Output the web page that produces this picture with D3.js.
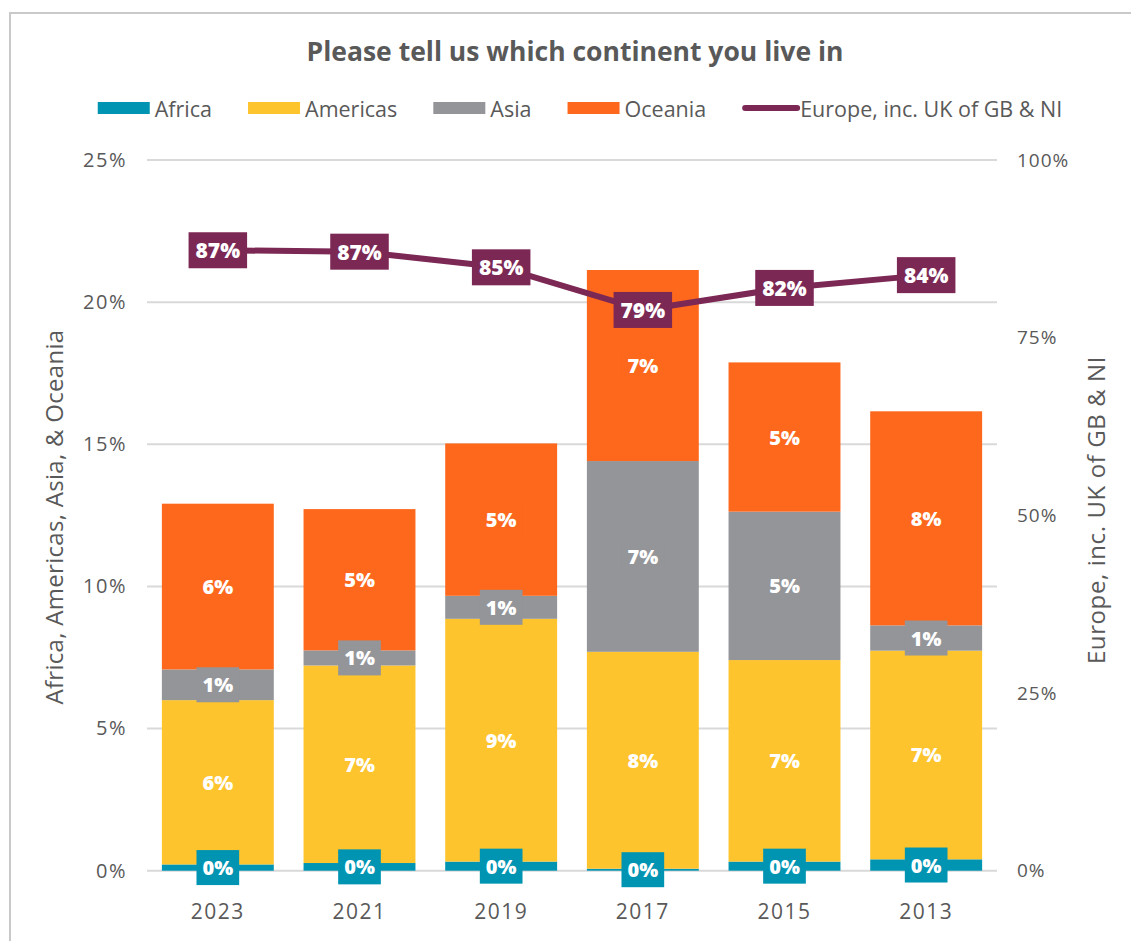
<!DOCTYPE html>
<html>
<head>
<meta charset="utf-8">
<script src="https://cdn.jsdelivr.net/npm/d3@7"></script>
<style>
  html, body { margin: 0; padding: 0; background: #fff; }
  svg { display: block; font-family: "Open Sans", Lato, sans-serif; }
</style>
</head>
<body>
<svg id="chart" width="1131" height="941"></svg>
<script>
// Survey years (left to right)
const years = ["2023", "2021", "2019", "2017", "2015", "2013"];

// Share of respondents per continent (%), stacked bars on the left axis
const africa   = [0.22, 0.27, 0.32, 0.07, 0.32, 0.40];
const americas = [5.78, 6.95, 8.54, 7.63, 7.09, 7.34];
const asia     = [1.08, 0.53, 0.81, 6.71, 5.22, 0.89];
const oceania  = [5.83, 4.97, 5.36, 6.72, 5.25, 7.53];

// Europe share (%), line on the right axis
const europe = [87.3, 87.1, 84.9, 78.9, 82.0, 83.8];

// Axis ticks
const leftTicks  = [0, 5, 10, 15, 20, 25];
const rightTicks = [0, 25, 50, 75, 100];

const seriesNames = ["Africa", "Americas", "Asia", "Oceania"];
const seriesValues = [africa, americas, asia, oceania];
const colors = {
  "Africa": "#0094b3",
  "Americas": "#fec42d",
  "Asia": "#949599",
  "Oceania": "#fe681c",
  "Europe": "#7c2855"
};
const europeName = "Europe, inc. UK of GB & NI";

const FONT = "'Open Sans', sans-serif";
const svg = d3.select("#chart");
const textCol = "#595959";
const gridCol = "#d9d9d9";

// outer frame
svg.append("rect")
  .attr("x", 10).attr("y", 13).attr("width", 1200).attr("height", 1000)
  .attr("fill", "none").attr("stroke", "#c9c9c9").attr("stroke-width", 2);

const plot = { left: 147, right: 997, top: 160, bottom: 870.7 };

const x = d3.scaleBand().domain(years)
  .range([plot.left, plot.right]).paddingInner(0.21).paddingOuter(0.105);
const yL = d3.scaleLinear().domain([0, 25]).range([plot.bottom, plot.top]);
const yR = d3.scaleLinear().domain([0, 100]).range([plot.bottom, plot.top]);

// gridlines
svg.append("g").selectAll("line").data(leftTicks).join("line")
  .attr("x1", plot.left).attr("x2", plot.right)
  .attr("y1", d => yL(d)).attr("y2", d => yL(d))
  .attr("stroke", gridCol).attr("stroke-width", 2);

// left axis labels
const axL = svg.append("g").attr("transform", `translate(${plot.left},0)`)
  .call(d3.axisLeft(yL).tickValues(leftTicks).tickFormat(d => d + "%").tickSize(0).tickPadding(20));
axL.select(".domain").remove();
axL.selectAll("text").attr("fill", textCol).style("font-size", "20px").style("letter-spacing", "1.5px")
  .style("font-family", FONT);

// right axis labels
const axR = svg.append("g").attr("transform", `translate(${plot.right},0)`)
  .call(d3.axisRight(yR).tickValues(rightTicks).tickFormat(d => d + "%").tickSize(0).tickPadding(20));
axR.select(".domain").remove();
axR.selectAll("text").attr("fill", textCol).style("font-size", "19px").style("letter-spacing", "1px")
  .style("font-family", FONT);

// x axis labels
const axX = svg.append("g").attr("transform", `translate(0,${plot.bottom})`)
  .call(d3.axisBottom(x).tickSize(0).tickPadding(33));
axX.select(".domain").remove();
axX.selectAll("text").attr("fill", textCol).style("font-size", "21px").style("letter-spacing", "1.5px")
  .style("font-family", FONT);

// stacked bars
const rows = years.map((yr, i) => {
  const r = { year: yr };
  seriesNames.forEach((s, k) => r[s] = seriesValues[k][i]);
  return r;
});
const stacked = d3.stack().keys(seriesNames)(rows);

const barG = svg.append("g");
stacked.forEach(layer => {
  barG.append("g").selectAll("rect").data(layer).join("rect")
    .attr("x", d => x(d.data.year))
    .attr("width", x.bandwidth())
    .attr("y", d => yL(d[1]))
    .attr("height", d => yL(d[0]) - yL(d[1]))
    .attr("fill", colors[layer.key]);
});

// Europe line
const line = d3.line()
  .x((d, i) => x(years[i]) + x.bandwidth() / 2)
  .y(d => yR(d));
svg.append("path").datum(europe)
  .attr("d", line)
  .attr("fill", "none")
  .attr("stroke", colors.Europe)
  .attr("stroke-width", 6)
  .attr("stroke-linejoin", "round");

// label helper: value text on a filled box
function boxLabel(g, cx, cy, txt, fill, padX, h, size) {
  const t = g.append("text")
    .attr("x", cx).attr("y", cy)
    .attr("text-anchor", "middle").attr("dominant-baseline", "central")
    .attr("fill", "#fff").style("font-size", size + "px").style("font-weight", "800")
    .style("font-family", FONT)
    .text(txt);
  const w = t.node().getComputedTextLength() + padX * 2;
  g.insert("rect", "text")
    .attr("x", cx - w / 2).attr("y", cy - h / 2)
    .attr("width", w).attr("height", h)
    .attr("fill", fill);
}

const labelG = svg.append("g");
stacked.forEach(layer => {
  layer.forEach(d => {
    const g = labelG.append("g");
    const cx = x(d.data.year) + x.bandwidth() / 2;
    const cy = (yL(d[0]) + yL(d[1])) / 2;
    boxLabel(g, cx, cy, Math.round(d[1] - d[0]) + "%", colors[layer.key], 6, 35, 20);
  });
});

europe.forEach((v, i) => {
  const g = labelG.append("g");
  boxLabel(g, x(years[i]) + x.bandwidth() / 2, yR(v), Math.round(v) + "%", colors.Europe, 7, 36, 21);
});

// axis titles
svg.append("text")
  .attr("transform", `translate(63,517) rotate(-90)`)
  .attr("text-anchor", "middle")
  .attr("fill", textCol).style("font-size", "24px").style("letter-spacing", "0.3px")
  .style("font-family", FONT)
  .text("Africa, Americas, Asia, & Oceania");

svg.append("text")
  .attr("transform", `translate(1105,510) rotate(-90)`)
  .attr("text-anchor", "middle")
  .attr("fill", textCol).style("font-size", "24px").style("letter-spacing", "0.6px")
  .style("font-family", FONT)
  .text(europeName);

// title
svg.append("text")
  .attr("x", 575).attr("y", 61)
  .attr("text-anchor", "middle")
  .attr("fill", textCol).style("font-size", "26.5px").style("font-weight", "bold")
  .style("font-family", FONT)
  .text("Please tell us which continent you live in");

// legend
const legendItems = seriesNames.map(s => ({ name: s, color: colors[s], type: "rect" }))
  .concat([{ name: europeName, color: colors.Europe, type: "line" }]);
const legG = svg.append("g");
let lx = 0;
const legY = 108;
const legGap = 36;
legendItems.forEach(it => {
  const g = legG.append("g").attr("transform", `translate(${lx},0)`);
  if (it.type === "rect") {
    g.append("rect").attr("x", 0).attr("y", legY - 6).attr("width", 52).attr("height", 12).attr("fill", it.color);
  } else {
    g.append("line").attr("x1", 3).attr("x2", 55).attr("y1", legY).attr("y2", legY)
      .attr("stroke", it.color).attr("stroke-width", 6).attr("stroke-linecap", "round");
  }
  const t = g.append("text").attr("x", it.type === "rect" ? 57 : 58).attr("y", legY)
    .attr("dominant-baseline", "central")
    .attr("fill", textCol).style("font-size", "21.5px")
    .style("font-family", FONT)
    .text(it.name);
  lx += (it.type === "rect" ? 57 : 58) + t.node().getComputedTextLength() + legGap;
});
const legW = lx - legGap;
legG.attr("transform", `translate(${580 - legW / 2},0)`);
</script>
</body>
</html>
